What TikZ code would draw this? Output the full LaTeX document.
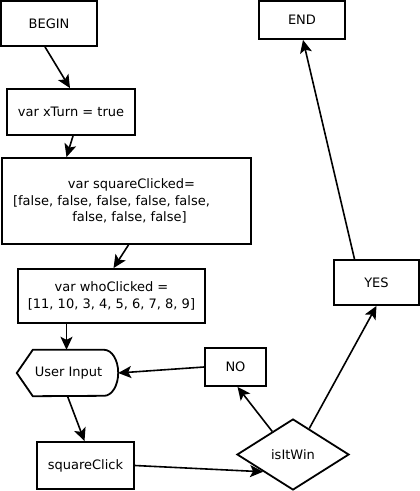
\documentclass[tikz,border=0pt]{standalone}
\usepackage{fontspec}
\setmainfont{DejaVu Sans}
\usetikzlibrary{shapes.geometric,arrows.meta}
\begin{document}
\begin{tikzpicture}[x=1pt,y=-1pt,
  box/.style={draw,line width=1.8pt,inner sep=0pt,align=center,font=\fontsize{13}{16.5}\selectfont},
  conn/.style={line width=1.6pt,-{Stealth[length=13pt,width=12pt,inset=3pt]}},
  lbl/.style={inner sep=0pt,font=\fontsize{13}{16.5}\selectfont}]
\useasboundingbox (0,0) rectangle (420,491);
\node[box,minimum width=96pt,minimum height=45pt] (begin) at (49,23.5) {BEGIN};
\node[box,minimum width=128pt,minimum height=46pt] (xturn) at (71,112) {var xTurn = true};
\node[box,minimum width=249pt,minimum height=86pt] (sc) at (126.5,201) {\hspace*{10pt}var squareClicked=\\\hspace*{-30pt}[false, false, false, false, false,\\\hspace*{6pt}false, false, false]};
\node[box,minimum width=187pt,minimum height=54pt] (who) at (111.5,296) {var whoClicked =\\{}[11, 10, 3, 4, 5, 6, 7, 8, 9]};
\node[lbl,minimum width=101pt,minimum height=46pt] (ui) at (67.5,373) {\hspace*{2pt}User Input};
\draw[line width=1.8pt] (ui.west) -- ([xshift=16pt]ui.north west) -- ([xshift=-14pt]ui.north east)
  arc[start angle=90,end angle=-90,x radius=14pt,y radius=23pt] -- ([xshift=16pt]ui.south west) -- cycle;
\node[box,minimum width=97pt,minimum height=47pt] (sqc) at (85.5,465.5) {squareClick};
\node[box,draw,diamond,minimum width=112pt,minimum height=71pt,shape aspect=1.58] (win) at (293,454.5) {isItWin};
\node[box,minimum width=61pt,minimum height=38pt] (no) at (235.5,367) {NO};
\node[box,minimum width=85pt,minimum height=45pt] (yes) at (376.5,282.5) {YES};
\node[box,minimum width=86pt,minimum height=38pt] (end) at (302,20) {END};
\draw[conn] ([xshift=-4pt]begin.south) -- ([xshift=-1pt]xturn.north);
\draw[conn] ([xshift=2pt]xturn.south) -- ([xshift=-60pt]sc.north);
\draw[conn] ([xshift=2pt]sc.south) -- ([xshift=2pt]who.north);
\draw[conn] ([xshift=-45pt]who.south) -- ([xshift=-1pt]ui.north);
\draw[conn] (ui.south) -- ([xshift=-1pt]sqc.north);
\draw[conn] (sqc.east) -- (win.210);
\draw[conn] (win.132) -- ([xshift=2pt]no.south);
\draw[conn] (win.58) -- (yes.south);
\draw[conn] (no.west) -- (ui.east);
\draw[conn] ([xshift=-22pt]yes.north) -- ([xshift=1pt]end.south);
\end{tikzpicture}
\end{document}
